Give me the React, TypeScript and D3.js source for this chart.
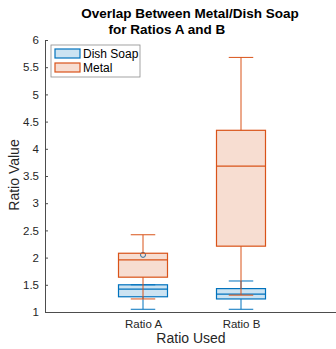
import { useEffect, useRef } from 'react';
import * as d3 from 'd3';

const categories = ['Ratio A', 'Ratio B'];
const yTicks = [1, 1.5, 2, 2.5, 3, 3.5, 4, 4.5, 5, 5.5, 6];

// [lowerWhisker, q1, median, q3, upperWhisker]
const dishSoapStats = [
  [1.05, 1.28, 1.42, 1.5, 1.5],
  [1.05, 1.24, 1.33, 1.43, 1.57],
];
const dishSoapOutliers = [[2.05], []];
const metalStats = [
  [1.24, 1.64, 1.96, 2.08, 2.42],
  [1.31, 2.21, 3.68, 4.34, 5.68],
];
const metalOutliers = [[], []];

const seriesNames = ['Dish Soap', 'Metal'];
const edgeColors = ['#0072BD', '#D95319'];
const fillColors = ['rgba(0,114,189,0.2)', 'rgba(217,83,25,0.2)'];

const App = () => {
  const ref = useRef(null);
  const width = 336;
  const height = 349;
  const margin = { left: 45, right: -3, top: 40, bottom: 37 };

  useEffect(() => {
    const svg = d3.select(ref.current);
    svg.selectAll('*').remove();
    svg.attr('width', width).attr('height', height);

    const font = 'Helvetica, "Liberation Sans", Arial, sans-serif';
    const x = d3.scaleLinear().domain([0, 3]).range([margin.left, width - margin.right]);
    const y = d3.scaleLinear().domain([1, 6]).range([height - margin.bottom, margin.top]);
    const boxW = (x(1) - x(0)) / 2;

    // y axis
    const yg = svg.append('g').attr('transform', `translate(${margin.left},0)`);
    yg.call(d3.axisLeft(y).tickValues(yTicks).tickSize(-3).tickSizeOuter(0).tickPadding(6)
      .tickFormat(d3.format('')));
    yg.select('.domain').attr('stroke', '#4d4d4d');
    yg.selectAll('.tick line').attr('stroke', '#4d4d4d');
    yg.selectAll('text').attr('font-family', font).attr('font-size', 11.5).attr('fill', '#262626');

    // x axis
    const xg = svg.append('g').attr('transform', `translate(0,${y(1)})`);
    xg.call(
      d3.axisBottom(x).tickValues([1, 2]).tickSize(0).tickSizeOuter(0).tickPadding(8)
        .tickFormat((d) => categories[(d as number) - 1])
    );
    xg.select('.domain').attr('stroke', '#4d4d4d');
    xg.selectAll('text').attr('font-family', font).attr('font-size', 11.5).attr('fill', '#262626');

    const drawSeries = (stats: number[][], outliers: number[][], k: number) => {
      const g = svg.append('g');
      stats.forEach((s, i) => {
        const cx = x(i + 1);
        const [lo, q1, med, q3, hi] = s;
        g.append('line').attr('x1', cx).attr('x2', cx).attr('y1', y(q3)).attr('y2', y(hi))
          .attr('stroke', edgeColors[k]);
        g.append('line').attr('x1', cx).attr('x2', cx).attr('y1', y(q1)).attr('y2', y(lo))
          .attr('stroke', edgeColors[k]);
        [lo, hi].forEach((v) => {
          g.append('line').attr('x1', cx - boxW / 4).attr('x2', cx + boxW / 4)
            .attr('y1', y(v)).attr('y2', y(v)).attr('stroke', edgeColors[k]);
        });
        outliers[i].forEach((v) => {
          g.append('circle').attr('cx', cx).attr('cy', y(v)).attr('r', 2.5)
            .attr('fill', 'none').attr('stroke', edgeColors[k]);
        });
        g.append('rect').attr('x', cx - boxW / 2).attr('width', boxW)
          .attr('y', y(q3)).attr('height', y(q1) - y(q3))
          .attr('fill', fillColors[k]).attr('stroke', edgeColors[k]).attr('stroke-width', 1.2);
        g.append('line').attr('x1', cx - boxW / 2).attr('x2', cx + boxW / 2)
          .attr('y1', y(med)).attr('y2', y(med)).attr('stroke', edgeColors[k]).attr('stroke-width', 1.2);
      });
    };
    drawSeries(dishSoapStats, dishSoapOutliers, 0);
    drawSeries(metalStats, metalOutliers, 1);

    // legend
    const lg = svg.append('g').attr('transform', 'translate(51,45)');
    lg.append('rect').attr('width', 89).attr('height', 32).attr('fill', 'white')
      .attr('stroke', '#8c8c8c').attr('stroke-width', 0.8);
    seriesNames.forEach((name, k) => {
      lg.append('rect').attr('x', 4).attr('y', 4 + k * 14).attr('width', 25).attr('height', 9)
        .attr('fill', fillColors[k]).attr('stroke', edgeColors[k]).attr('stroke-width', 1.2);
      lg.append('text').attr('x', 32).attr('y', 13 + k * 14).attr('font-family', font)
        .attr('font-size', 12).attr('fill', '#000').text(name);
    });

    // title
    svg.append('text').attr('x', 190).attr('y', 18).attr('text-anchor', 'middle')
      .attr('font-family', font).attr('font-weight', 'bold').attr('font-size', 13.5)
      .attr('fill', '#000').text('Overlap Between Metal/Dish Soap');
    svg.append('text').attr('x', 167).attr('y', 34).attr('text-anchor', 'middle')
      .attr('font-family', font).attr('font-weight', 'bold').attr('font-size', 13.5)
      .attr('fill', '#000').text('for Ratios A and B');

    // axis labels
    svg.append('text').attr('x', 191).attr('y', 343).attr('text-anchor', 'middle')
      .attr('font-family', font).attr('font-size', 14).attr('fill', '#262626').text('Ratio Used');
    svg.append('text').attr('transform', 'translate(19,175) rotate(-90)').attr('text-anchor', 'middle')
      .attr('font-family', font).attr('font-size', 14).attr('fill', '#262626').text('Ratio Value');
  }, []);

  return <svg ref={ref} style={{ position: 'absolute', left: 0, top: 0 }} />;
};

export default App;
